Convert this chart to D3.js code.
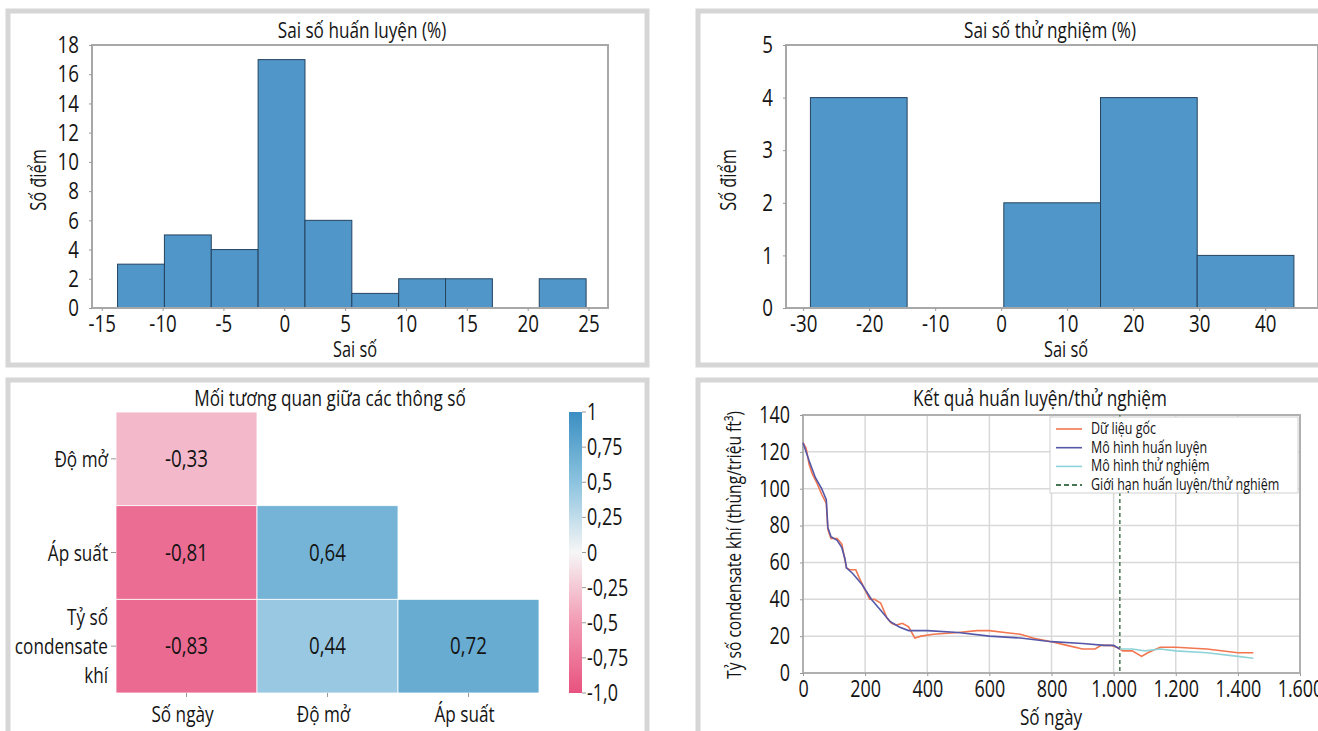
<!DOCTYPE html>
<html>
<head>
<meta charset="utf-8">
<title>Sai số và tương quan</title>
<script src="https://cdn.jsdelivr.net/npm/d3@7"></script>
<style>
  body { margin: 0; background: #fff; }
  svg text { font-family: "Open Sans", "DejaVu Sans", sans-serif; fill: #141414; }
</style>
</head>
<body>
<svg id="chart" width="1318" height="731"></svg>
<script>
// ---- data ----
const trainEdges = [-13.7, -9.85, -6.0, -2.15, 1.7, 5.55, 9.4, 13.25, 17.1, 20.95, 24.8];
const trainCounts = [3, 5, 4, 17, 6, 1, 2, 2, 0, 2];
const testEdges = [-28.9, -14.25, 0.4, 15.05, 29.7, 44.35];
const testCounts = [4, 0, 2, 4, 1];

const corrCols = ["Số ngày", "Độ mở", "Áp suất"];
const corrRows = ["Độ mở", "Áp suất", "Tỷ số condensate khí"];
const corrValues = [
  [-0.33, null, null],
  [-0.81, 0.64, null],
  [-0.83, 0.44, 0.72]
];
const cbarTicks = [1, 0.75, 0.5, 0.25, 0, -0.25, -0.5, -0.75, -1];
const cbarLabels = ["1", "0,75", "0,5", "0,25", "0", "-0,25", "-0,5", "-0,75", "-1,0"];

const origDays = [0, 10, 20, 30, 45, 60, 75, 80, 90, 110, 125, 140, 150, 170, 180, 200, 215, 230, 250, 270, 285, 300, 320, 340, 360, 380, 420, 500, 560, 600, 650, 700, 740, 800, 850, 900, 940, 960, 990, 1010, 1030, 1060, 1090, 1110, 1150, 1200, 1300, 1400, 1450];
const origVals = [125, 122, 113, 108, 103, 97, 92, 78, 73, 73, 70, 57, 56, 56, 52, 45, 40, 40, 38, 30, 27, 26, 27, 25, 19, 20, 21, 22, 23, 23, 22, 21, 19, 17, 15, 13, 13, 15, 15, 14, 12, 12, 9, 11, 14, 14, 13, 11, 11];
const trainDays = [0, 20, 40, 60, 75, 80, 90, 110, 125, 135, 140, 160, 190, 220, 250, 280, 310, 340, 400, 500, 600, 700, 800, 900, 970, 1000, 1020];
const trainVals = [125, 115, 106, 100, 94, 79, 74, 72, 68, 62, 57, 54, 48, 40, 34, 28, 25, 23, 23, 22, 20, 19, 17, 16, 15, 15, 13];
const testDays = [1020, 1060, 1100, 1150, 1200, 1300, 1400, 1450];
const testVals = [13, 13, 12, 13, 12, 11, 9, 8];
const splitDay = 1020;

const legendNames = ["Dữ liệu gốc", "Mô hình huấn luyện", "Mô hình thử nghiệm", "Giới hạn huấn luyện/thử nghiệm"];
const legendColors = ["#f2764f", "#5558a8", "#8fd3d8", "#4a7452"];

const SX = 0.78; // squeeze text horizontally to look like a condensed face
const svg = d3.select("#chart");

function txt(g, x, y, s, size, anchor, rot) {
  return g.append("text")
    .attr("transform", `translate(${x},${y})${rot ? " rotate(-90)" : ""} scale(${SX},1)`)
    .attr("text-anchor", anchor || "start").attr("font-size", size).text(s);
}
function squeezeAxis(a, size) {
  a.select(".domain").remove();
  a.selectAll("line").attr("stroke", "#999");
  a.selectAll("text").attr("font-size", size).attr("fill", "#141414")
    .attr("transform", `scale(${SX},1)`)
    .attr("x", function () { return (+this.getAttribute("x") || 0) / SX; });
}

// panel frames
function panel(x, y, w, h) {
  svg.append("rect").attr("x", x).attr("y", y).attr("width", w).attr("height", h)
    .attr("fill", "none").attr("stroke", "#d6d6d6").attr("stroke-width", 5);
}
panel(8, 11, 639, 354);
panel(698, 11, 700, 354);
panel(8, 380, 639, 400);
panel(698, 380, 700, 400);

// ---- histograms ----
function histogram(o) {
  const x = d3.scaleLinear().domain(o.xdom).range([o.left, o.right]);
  const y = d3.scaleLinear().domain(o.ydom).range([o.bottom, o.top]);
  const g = svg.append("g");

  const bins = o.counts.map((c, i) => ({ x0: o.edges[i], x1: o.edges[i + 1], c }));
  g.selectAll("rect.bar").data(bins.filter(d => d.c > 0)).enter().append("rect")
    .attr("x", d => x(d.x0)).attr("width", d => x(d.x1) - x(d.x0))
    .attr("y", d => y(d.c)).attr("height", d => y(0) - y(d.c))
    .attr("fill", "#5196c8").attr("stroke", "#24435f").attr("stroke-width", 1);

  g.append("rect").attr("x", o.left).attr("y", o.top)
    .attr("width", o.right - o.left).attr("height", o.bottom - o.top)
    .attr("fill", "none").attr("stroke", "#a8a8a8").attr("stroke-width", 2);

  const xa = g.append("g").attr("transform", `translate(0,${o.bottom})`)
    .call(d3.axisBottom(x).tickValues(o.xticks).tickFormat(d => String(d)).tickSize(3).tickPadding(4));
  const ya = g.append("g").attr("transform", `translate(${o.left},0)`)
    .call(d3.axisLeft(y).tickValues(o.yticks).tickFormat(d => String(d)).tickSize(3).tickPadding(10));
  squeezeAxis(xa, 24);
  squeezeAxis(ya, 24);

  txt(g, o.titleX, 38, o.title, 22, "middle");
  txt(g, o.xlabX, 357, "Sai số", 21, "middle");
  txt(g, o.ylabX, 180, "Số điểm", 21, "middle", true);
}

histogram({
  edges: trainEdges, counts: trainCounts, xdom: [-15.8, 26.6], ydom: [0, 18],
  left: 92, right: 608, top: 45, bottom: 308,
  xticks: [-15, -10, -5, 0, 5, 10, 15, 20, 25], yticks: d3.range(0, 19, 2),
  title: "Sai số huấn luyện (%)", titleX: 362, xlabX: 355, ylabX: 46
});
histogram({
  edges: testEdges, counts: testCounts, xdom: [-32.6, 48], ydom: [0, 5],
  left: 786, right: 1318, top: 45, bottom: 308,
  xticks: [-30, -20, -10, 0, 10, 20, 30, 40], yticks: [0, 1, 2, 3, 4, 5],
  title: "Sai số thử nghiệm (%)", titleX: 1050, xlabX: 1066, ylabX: 736
});

// ---- correlation heatmap ----
{
  const x = d3.scaleBand().domain(corrCols).range([116, 539]);
  const y = d3.scaleBand().domain(corrRows).range([412, 693]);
  const color = d3.scaleLinear().domain([-1, -0.5, 0, 0.5, 1])
    .range(["#e8527f", "#f29ab3", "#f6f6f6", "#8cc3df", "#3b8fc2"]);
  const g = svg.append("g");

  const cells = [];
  corrRows.forEach((r, i) => corrCols.forEach((c, j) => {
    if (corrValues[i][j] !== null) cells.push({ r, c, v: corrValues[i][j] });
  }));
  g.selectAll("rect.cell").data(cells).enter().append("rect")
    .attr("x", d => x(d.c)).attr("y", d => y(d.r))
    .attr("width", x.bandwidth()).attr("height", y.bandwidth())
    .attr("fill", d => color(d.v)).attr("stroke", "#fff").attr("stroke-width", 0.8);
  cells.forEach(d => {
    txt(g, x(d.c) + x.bandwidth() / 2, y(d.r) + y.bandwidth() / 2 + 8,
      String(d.v).replace(".", ","), 24, "middle");
  });

  // row labels
  corrRows.forEach(r => {
    const cy = y(r) + y.bandwidth() / 2;
    g.append("line").attr("x1", 111).attr("x2", 116).attr("y1", cy).attr("y2", cy).attr("stroke", "#999");
    const lines = r === "Tỷ số condensate khí" ? ["Tỷ số", "condensate", "khí"] : [r];
    lines.forEach((t, k) => {
      txt(g, 108, cy + 8 + (k - (lines.length - 1) / 2) * 29, t, 22, "end");
    });
  });
  corrCols.forEach(c => {
    const cx = x(c) + x.bandwidth() / 2;
    g.append("line").attr("x1", cx).attr("x2", cx).attr("y1", 693).attr("y2", 697).attr("stroke", "#999");
    txt(g, cx - 4, 722, c, 22, "middle");
  });
  txt(g, 330, 406, "Mối tương quan giữa các thông số", 22, "middle");

  // colorbar
  const cy = d3.scaleLinear().domain([-1, 1]).range([693, 412]);
  const defs = svg.append("defs");
  const grad = defs.append("linearGradient").attr("id", "cbar")
    .attr("x1", 0).attr("y1", 1).attr("x2", 0).attr("y2", 0);
  d3.range(0, 1.0001, 0.05).forEach(t => {
    grad.append("stop").attr("offset", t).attr("stop-color", color(-1 + 2 * t));
  });
  g.append("rect").attr("x", 569).attr("y", cy(1)).attr("width", 13).attr("height", cy(-1) - cy(1))
    .attr("fill", "url(#cbar)");
  cbarTicks.forEach((t, i) => {
    g.append("line").attr("x1", 582).attr("x2", 586).attr("y1", cy(t)).attr("y2", cy(t)).attr("stroke", "#999");
    txt(g, 587, cy(t) + 8, cbarLabels[i], 23, "start");
  });
}

// ---- training / testing line chart ----
{
  const left = 803, right = 1300, top = 415, bottom = 673;
  const x = d3.scaleLinear().domain([0, 1600]).range([left, right]);
  const y = d3.scaleLinear().domain([0, 140]).range([bottom, top]);
  const g = svg.append("g");
  const loc = d3.formatLocale({ decimal: ",", thousands: ".", grouping: [3], currency: ["", ""] });
  const fmt = loc.format(",");

  const xt = d3.range(0, 1601, 200), yt = d3.range(0, 141, 20);
  g.selectAll("line.gx").data(xt).enter().append("line")
    .attr("x1", d => x(d)).attr("x2", d => x(d)).attr("y1", top).attr("y2", bottom)
    .attr("stroke", "#d9d9d9").attr("stroke-width", 1.5);
  g.selectAll("line.gy").data(yt).enter().append("line")
    .attr("x1", left).attr("x2", right).attr("y1", d => y(d)).attr("y2", d => y(d))
    .attr("stroke", "#d9d9d9").attr("stroke-width", 1.5);
  g.append("rect").attr("x", left).attr("y", top).attr("width", right - left).attr("height", bottom - top)
    .attr("fill", "none").attr("stroke", "#b0b0b0").attr("stroke-width", 2);

  const xa = g.append("g").attr("transform", `translate(0,${bottom})`)
    .call(d3.axisBottom(x).tickValues(xt).tickFormat(fmt).tickSize(3).tickPadding(5));
  const ya = g.append("g").attr("transform", `translate(${left},0)`)
    .call(d3.axisLeft(y).tickValues(yt).tickSize(3).tickPadding(10));
  squeezeAxis(xa, 23);
  squeezeAxis(ya, 23);

  const line = d3.line().x(d => x(d[0])).y(d => y(d[1]));
  const zip = (a, b) => a.map((d, i) => [d, b[i]]);
  g.append("line").attr("x1", x(splitDay)).attr("x2", x(splitDay)).attr("y1", top).attr("y2", bottom)
    .attr("stroke", legendColors[3]).attr("stroke-width", 1.5).attr("stroke-dasharray", "4,3");
  g.append("path").attr("d", line(zip(origDays, origVals))).attr("fill", "none")
    .attr("stroke", legendColors[0]).attr("stroke-width", 1.6);
  g.append("path").attr("d", line(zip(trainDays, trainVals))).attr("fill", "none")
    .attr("stroke", legendColors[1]).attr("stroke-width", 1.6);
  g.append("path").attr("d", line(zip(testDays, testVals))).attr("fill", "none")
    .attr("stroke", legendColors[2]).attr("stroke-width", 1.6);

  // legend
  const lg = g.append("g");
  lg.append("rect").attr("x", 1050).attr("y", 417).attr("width", 248).attr("height", 76)
    .attr("fill", "#fff").attr("stroke", "#d0d0d0");
  legendNames.forEach((n, i) => {
    const ly = 429 + i * 18.7;
    lg.append("line").attr("x1", 1056).attr("x2", 1082).attr("y1", ly).attr("y2", ly)
      .attr("stroke", legendColors[i]).attr("stroke-width", i === 3 ? 2 : 1.6)
      .attr("stroke-dasharray", i === 3 ? "5,3" : null);
    txt(lg, 1091, ly + 5, n, 16, "start");
  });

  txt(g, 1040, 406, "Kết quả huấn luyện/thử nghiệm", 22, "middle");
  txt(g, 1051, 725, "Số ngày", 22, "middle");
  txt(g, 741, 545, "Tỷ số condensate khí (thùng/triệu ft³)", 20, "middle", true);
}
</script>
</body>
</html>
